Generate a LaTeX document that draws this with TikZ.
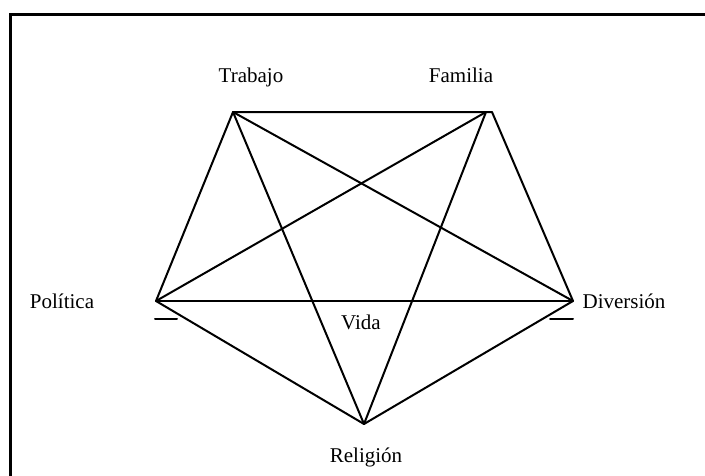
\documentclass[tikz,border=0pt]{standalone}
\usepackage{fontspec}
\setmainfont{Liberation Serif}
\begin{document}
\begin{tikzpicture}[x=1pt,y=-1pt,
  lbl/.style={font=\fontsize{21}{25}\selectfont,inner sep=0pt,anchor=base},
  edge/.style={line width=2pt,line cap=round,line join=round},
  frame/.style={line width=3pt}
]
\useasboundingbox (0,0) rectangle (705,475);
\fill[white] (0,0) rectangle (705,475);
\draw[frame] (10,478) -- (10,14) -- (708,14);
% corners of the star
\coordinate (tra) at (233,112);
\coordinate (fam) at (486,112);
\coordinate (famr) at (492,112);
\coordinate (pol) at (156,301);
\coordinate (div) at (573,301);
\coordinate (rel) at (364,424);
\coordinate (polstub) at (177,319);
\coordinate (polend) at (155,319);
\coordinate (divstub) at (550,319);
\coordinate (divend) at (573,319);
% labels
\node[lbl] (ltra) at (251,82) {Trabajo};
\node[lbl] (lfam) at (461,82) {Familia};
\node[lbl] (lpol) at (62,308) {Política};
\node[lbl] (ldiv) at (624,308) {Diversión};
\node[lbl] (lvida) at (361,329) {Vida};
\node[lbl] (lrel) at (366,462) {Religión};
% outer pentagon
\draw[edge] (tra) -- (famr) -- (div) -- (rel) -- (pol) -- (tra);
% star
\draw[edge] (tra) -- (div);
\draw[edge] (tra) -- (rel);
\draw[edge] (fam) -- (pol);
\draw[edge] (fam) -- (rel);
\draw[edge] (pol) -- (div);
% short ticks
\draw[edge] (polend) -- (polstub);
\draw[edge] (divstub) -- (divend);
\end{tikzpicture}
\end{document}
